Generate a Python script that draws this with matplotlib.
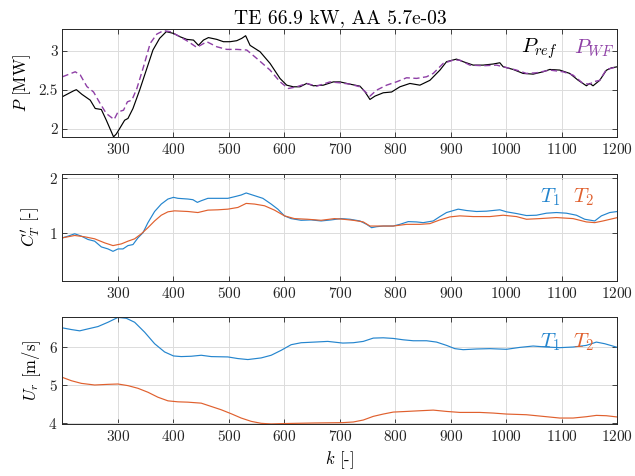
import matplotlib
matplotlib.use("Agg")
import matplotlib.pyplot as plt

# top panel: farm power [MW]
k_pref = [200, 220, 225, 235, 250, 259, 270, 279, 292, 297, 303, 312, 318, 327, 339, 351, 363,
          375, 387, 400, 412, 424, 436, 445, 454, 463, 478, 490, 502, 514, 523, 530, 538, 556,
          574, 592, 604, 616, 628, 640, 652, 670, 688, 700, 718, 736, 745, 754, 763, 778, 793,
          808, 826, 844, 862, 880, 892, 910, 922, 940, 958, 976, 988, 994, 1012, 1030, 1048,
          1066, 1078, 1096, 1114, 1129, 1144, 1150, 1156, 1168, 1180, 1189, 1200]
p_ref = [2.41, 2.485, 2.50, 2.44, 2.365, 2.258, 2.245, 2.107, 1.893, 1.93, 2.0, 2.107, 2.13,
         2.258, 2.494, 2.752, 3.01, 3.16, 3.246, 3.224, 3.18, 3.147, 3.138, 3.07, 3.138, 3.17,
         3.147, 3.117, 3.117, 3.13, 3.16, 3.194, 3.07, 2.988, 2.838, 2.644, 2.558, 2.537,
         2.537, 2.58, 2.55, 2.558, 2.60, 2.60, 2.571, 2.545, 2.473, 2.374, 2.417, 2.46, 2.47,
         2.537, 2.58, 2.558, 2.62, 2.751, 2.86, 2.893, 2.86, 2.816, 2.816, 2.83, 2.846, 2.795,
         2.76, 2.709, 2.70, 2.73, 2.76, 2.752, 2.709, 2.622, 2.55, 2.58, 2.55, 2.62, 2.75,
         2.78, 2.795]

k_pwf = [200, 223, 232, 244, 256, 268, 279, 293, 300, 310, 317, 325, 334, 346, 358, 370, 382,
         394, 406, 424, 442, 460, 478, 496, 514, 532, 550, 574, 592, 607, 622, 640, 658, 682,
         700, 718, 736, 754, 766, 784, 802, 820, 838, 856, 868, 886, 904, 916, 934, 958, 982,
         994, 1018, 1036, 1054, 1078, 1102, 1120, 1138, 1150, 1156, 1168, 1180, 1200]
p_wf = [2.666, 2.73, 2.69, 2.54, 2.47, 2.32, 2.193, 2.116, 2.214, 2.236, 2.344, 2.365, 2.515,
        2.795, 3.095, 3.215, 3.259, 3.246, 3.203, 3.13, 3.044, 3.117, 3.052, 3.018, 3.018,
        3.01, 2.902, 2.752, 2.601, 2.515, 2.537, 2.58, 2.545, 2.60, 2.588, 2.571, 2.537,
        2.417, 2.494, 2.558, 2.601, 2.653, 2.645, 2.666, 2.709, 2.838, 2.88, 2.88, 2.816,
        2.808, 2.816, 2.795, 2.752, 2.709, 2.717, 2.752, 2.73, 2.687, 2.58, 2.571, 2.601,
        2.62, 2.76, 2.795]

# middle panel: thrust coefficient
k_ct1 = [200, 210, 222, 234, 246, 258, 270, 282, 291, 300, 309, 318, 327, 336, 345, 354, 366,
         378, 390, 400, 408, 426, 435, 443, 450, 462, 480, 498, 513, 522, 531, 546, 561, 576,
         588, 600, 612, 630, 648, 666, 684, 702, 718, 736, 748, 757, 766, 778, 796, 808, 823,
         838, 850, 868, 880, 892, 913, 928, 946, 964, 988, 1000, 1018, 1036, 1054, 1072, 1090,
         1108, 1126, 1141, 1159, 1171, 1186, 1200]
ct1 = [0.907, 0.938, 0.981, 0.938, 0.877, 0.846, 0.741, 0.704, 0.66, 0.704, 0.704, 0.765,
       0.784, 0.907, 1.0, 1.185, 1.389, 1.525, 1.617, 1.648, 1.63, 1.617, 1.605, 1.556, 1.586,
       1.63, 1.63, 1.63, 1.667, 1.691, 1.728, 1.679, 1.63, 1.525, 1.432, 1.309, 1.259, 1.228,
       1.235, 1.216, 1.235, 1.259, 1.247, 1.216, 1.154, 1.093, 1.111, 1.123, 1.123, 1.154,
       1.204, 1.198, 1.185, 1.216, 1.296, 1.37, 1.432, 1.407, 1.389, 1.395, 1.42, 1.383,
       1.352, 1.315, 1.321, 1.358, 1.37, 1.358, 1.321, 1.247, 1.216, 1.309, 1.37, 1.389]

k_ct2 = [200, 222, 240, 258, 276, 291, 306, 318, 330, 342, 354, 366, 378, 390, 402, 426, 444,
         462, 480, 498, 516, 531, 546, 564, 582, 600, 618, 642, 666, 690, 706, 724, 742, 754,
         772, 796, 820, 844, 862, 880, 898, 916, 940, 970, 994, 1018, 1036, 1060, 1090, 1120,
         1144, 1159, 1174, 1200]
ct2 = [0.907, 0.95, 0.926, 0.889, 0.815, 0.765, 0.796, 0.846, 0.889, 0.981, 1.093, 1.216,
       1.321, 1.383, 1.401, 1.389, 1.37, 1.414, 1.42, 1.432, 1.463, 1.537, 1.525, 1.494,
       1.414, 1.309, 1.259, 1.247, 1.228, 1.259, 1.247, 1.228, 1.198, 1.123, 1.123, 1.123,
       1.154, 1.154, 1.167, 1.235, 1.29, 1.309, 1.296, 1.296, 1.321, 1.296, 1.247, 1.259,
       1.278, 1.259, 1.198, 1.185, 1.216, 1.278]

# bottom panel: rotor-averaged wind speed [m/s]
k_u1 = [200, 216, 231, 246, 264, 282, 300, 315, 330, 348, 366, 384, 400, 414, 432, 450, 468,
        498, 516, 534, 558, 576, 594, 612, 630, 654, 678, 705, 724, 742, 760, 778, 796, 814,
        832, 856, 874, 892, 907, 922, 946, 970, 1000, 1024, 1048, 1072, 1096, 1120, 1144,
        1162, 1177, 1200]
u1 = [6.504, 6.46, 6.426, 6.478, 6.539, 6.652, 6.78, 6.757, 6.652, 6.391, 6.087, 5.87, 5.765,
      5.748, 5.757, 5.783, 5.748, 5.739, 5.696, 5.67, 5.713, 5.783, 5.913, 6.061, 6.113,
      6.13, 6.148, 6.104, 6.113, 6.148, 6.235, 6.243, 6.226, 6.19, 6.165, 6.165, 6.13,
      6.043, 5.957, 5.93, 5.948, 5.957, 5.94, 5.99, 6.026, 6.0, 5.983, 6.0, 6.043, 6.13,
      6.087, 5.99]

k_u2 = [200, 216, 234, 258, 282, 300, 318, 336, 354, 372, 390, 408, 426, 450, 468, 486, 504,
        522, 540, 558, 576, 594, 618, 654, 705, 724, 742, 760, 778, 796, 820, 844, 868, 892,
        916, 952, 976, 1000, 1036, 1072, 1096, 1120, 1144, 1162, 1180, 1200]
u2 = [5.2, 5.113, 5.043, 5.0, 5.017, 5.026, 4.983, 4.913, 4.809, 4.678, 4.583, 4.557, 4.548,
      4.522, 4.435, 4.348, 4.243, 4.13, 4.043, 3.991, 3.974, 3.983, 3.99, 4.0, 4.009, 4.026,
      4.078, 4.174, 4.235, 4.287, 4.304, 4.322, 4.339, 4.304, 4.278, 4.278, 4.261, 4.235,
      4.217, 4.165, 4.13, 4.13, 4.165, 4.2, 4.191, 4.157]

xticks = [300, 400, 500, 600, 700, 800, 900, 1000, 1100, 1200]

# matlab-ish look
plt.rcParams["font.family"] = "serif"
plt.rcParams["font.serif"] = ["cmr10", "DejaVu Serif"]
plt.rcParams["mathtext.fontset"] = "cm"
plt.rcParams["axes.formatter.use_mathtext"] = True

c_blue = "#2485CE"
c_orange = "#E0602E"
c_purple = "#8E3FA6"
c_frame = "#262626"

fig = plt.figure(figsize=(6.35, 4.76), dpi=100)
ax1 = fig.add_axes([0.0984, 0.712, 0.874, 0.227])
ax2 = fig.add_axes([0.0984, 0.410, 0.874, 0.225])
ax3 = fig.add_axes([0.0984, 0.109, 0.874, 0.225])

ax1.plot(k_pref, p_ref, color="k", lw=0.85)
ax1.plot(k_pwf, p_wf, color=c_purple, lw=1.0, ls=(0, (4.5, 2.5)))
ax1.set_ylim(1.89, 3.28)
ax1.set_yticks([2, 2.5, 3])
ax1.set_yticklabels(["2", "2.5", "3"])
ax1.set_ylabel(r"$P$ [MW]", fontsize=12)
ax1.set_title("TE 66.9 kW, AA 5.7e-03", fontsize=14, pad=4)
ax1.text(0.86, 0.82, r"$P_{ref}$", color="k", fontsize=15, transform=ax1.transAxes,
         ha="center", va="center")
ax1.text(0.958, 0.82, r"$P_{WF}$", color=c_purple, fontsize=15, transform=ax1.transAxes,
         ha="center", va="center")

ax2.plot(k_ct1, ct1, color=c_blue, lw=0.85)
ax2.plot(k_ct2, ct2, color=c_orange, lw=0.85)
ax2.set_ylim(0.12, 2.08)
ax2.set_yticks([1, 2])
ax2.set_ylabel(r"$C_T'$ [-]", fontsize=12)

ax3.plot(k_u1, u1, color=c_blue, lw=0.85)
ax3.plot(k_u2, u2, color=c_orange, lw=0.85)
ax3.set_ylim(3.97, 6.79)
ax3.set_yticks([4, 5, 6])
ax3.set_ylabel(r"$U_r$ [m/s]", fontsize=12)
ax3.set_xlabel(r"$k$ [-]", fontsize=12)

for ax, ty in ((ax2, 0.785), (ax3, 0.766)):
    ax.text(0.878, ty, r"$T_1$", color=c_blue, fontsize=15, transform=ax.transAxes,
            ha="center", va="center")
    ax.text(0.938, ty, r"$T_2$", color=c_orange, fontsize=15, transform=ax.transAxes,
            ha="center", va="center")

for ax in (ax1, ax2, ax3):
    ax.set_xlim(200, 1200)
    ax.set_xticks(xticks)
    ax.grid(True, color="#dcdcdc", lw=0.7)
    ax.set_axisbelow(True)
    ax.tick_params(direction="in", top=True, right=True, labelsize=11,
                   colors=c_frame, length=3.5, width=0.6)
    for s in ax.spines.values():
        s.set_color(c_frame)
        s.set_linewidth(0.7)

fig.savefig("out.png", dpi=100)
